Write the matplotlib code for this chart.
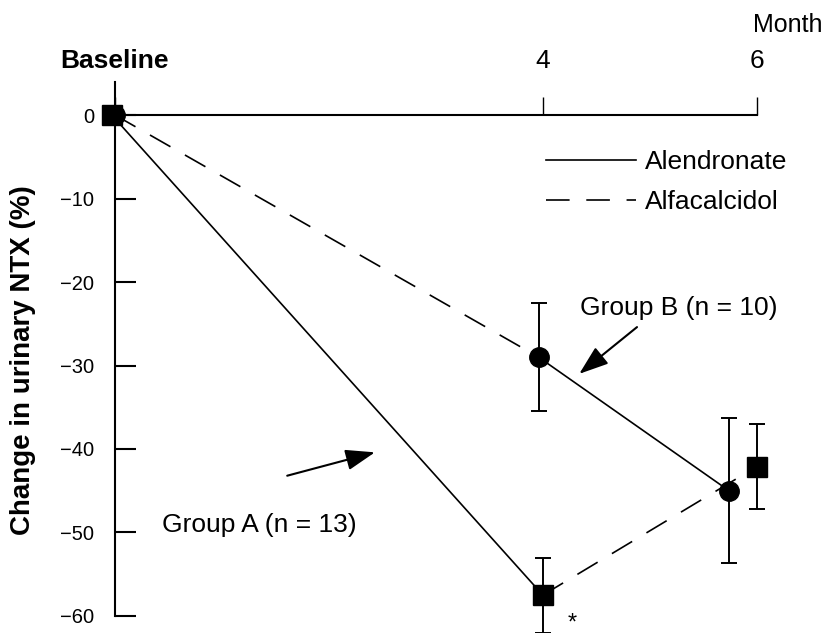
import matplotlib
matplotlib.use('Agg')
import matplotlib.pyplot as plt
from matplotlib.lines import Line2D

plt.rcParams['font.family'] = ['Liberation Sans', 'DejaVu Sans']
plt.rcParams['lines.scale_dashes'] = False

# ---- data ----
tick_months = [0, 4, 6]
tick_labels = ['Baseline', '4', '6']
y_ticks = [0, -10, -20, -30, -40, -50, -60]

# Group A (squares): Alendronate first, then Alfacalcidol
months_a = [-0.03, 4.0, 6.0]
mean_a = [0, -57.5, -42.1]
err_a = [0, 4.5, 5.1]

# Group B (circles): Alfacalcidol first, then Alendronate
months_b = [0, 3.96, 5.74]
mean_b = [0, -29.0, -45.0]
err_b = [0, 6.5, 8.7]

legend_labels = ['Alendronate', 'Alfacalcidol']

DASH = (0, (17, 12))
LW = 1.2
FS = 19

fig = plt.figure(figsize=(8.27, 6.33), dpi=100)
ax = fig.add_axes([61.5 / 827, 0.0005, (821 - 61.5) / 827, 0.9497])
ax.set_xlim(-0.5, 6.6)
ax.set_ylim(-62, 10)

# spines
for s in ['right', 'bottom']:
    ax.spines[s].set_visible(False)
ax.spines['left'].set_position(('data', 0))
ax.spines['left'].set_bounds(-60, 4)
ax.spines['left'].set_linewidth(1.5)
ax.spines['top'].set_position(('data', 0))
ax.spines['top'].set_bounds(0, 6)
ax.spines['top'].set_linewidth(1.5)

ax.xaxis.set_ticks_position('top')
ax.set_xticks(tick_months, tick_labels)
ax.tick_params(axis='x', direction='out', length=13, width=1.0, pad=17, labelsize=FS)
ax.get_xticklabels()[0].set_fontweight('bold')

ax.yaxis.set_ticks_position('left')
ax.set_yticks(y_ticks)
ax.tick_params(axis='y', direction='in', length=15, width=1.5, pad=15, labelsize=14.5)

# lines
ax.plot(months_a[0:2], mean_a[0:2], color='k', lw=LW, ls='-', clip_on=False)
ax.plot(months_a[1:3], mean_a[1:3], color='k', lw=LW, ls=DASH, clip_on=False)
ax.plot(months_b[0:2], mean_b[0:2], color='k', lw=LW, ls=DASH, clip_on=False)
ax.plot(months_b[1:3], mean_b[1:3], color='k', lw=LW, ls='-', clip_on=False)

# error bars
ax.errorbar(months_a[1:], mean_a[1:], yerr=err_a[1:], fmt='none', ecolor='k',
            elinewidth=1.4, capsize=6, capthick=1.4, clip_on=False)
ax.errorbar(months_b[1:], mean_b[1:], yerr=err_b[1:], fmt='none', ecolor='k',
            elinewidth=1.4, capsize=6, capthick=1.4, clip_on=False)

# markers
ax.plot(months_a, mean_a, ls='none', marker='s', ms=14, color='k', clip_on=False, zorder=5)
ax.plot(months_b, mean_b, ls='none', marker='o', ms=14, color='k', clip_on=False, zorder=5)

# legend
handles = [Line2D([], [], color='k', lw=LW, ls='-'),
           Line2D([], [], color='k', lw=LW, ls=DASH)]
ax.legend(handles, legend_labels, frameon=False, fontsize=FS, handlelength=3.4,
          handletextpad=0.35, labelspacing=0.6, borderpad=0, borderaxespad=0,
          loc='upper left', bbox_to_anchor=(4.03, -4.2), bbox_transform=ax.transData)

# annotations
arrow_kw = dict(arrowstyle='-|>,head_length=0.9,head_width=0.32', color='k', lw=1.5,
                mutation_scale=20, shrinkA=0, shrinkB=0)
ax.text(5.27, -23.1, 'Group B (n = 10)', fontsize=FS, ha='center', va='center')
ax.annotate('', xy=(4.34, -31.0), xytext=(4.88, -25.4), arrowprops=arrow_kw)
ax.text(1.35, -49.1, 'Group A (n = 13)', fontsize=FS, ha='center', va='center')
ax.annotate('', xy=(2.43, -40.4), xytext=(1.61, -43.2), arrowprops=arrow_kw)
ax.text(4.27, -60.9, '*', fontsize=17, ha='center', va='center')

ax.text(6.29, 10.8, 'Month', fontsize=18, ha='center', va='center', clip_on=False)

fig.text(23 / 827, 1 - 360 / 633, 'Change in urinary NTX (%)', rotation=90,
         fontweight='bold', fontsize=20, ha='center', va='center')

fig.savefig('out.png', dpi=100)
